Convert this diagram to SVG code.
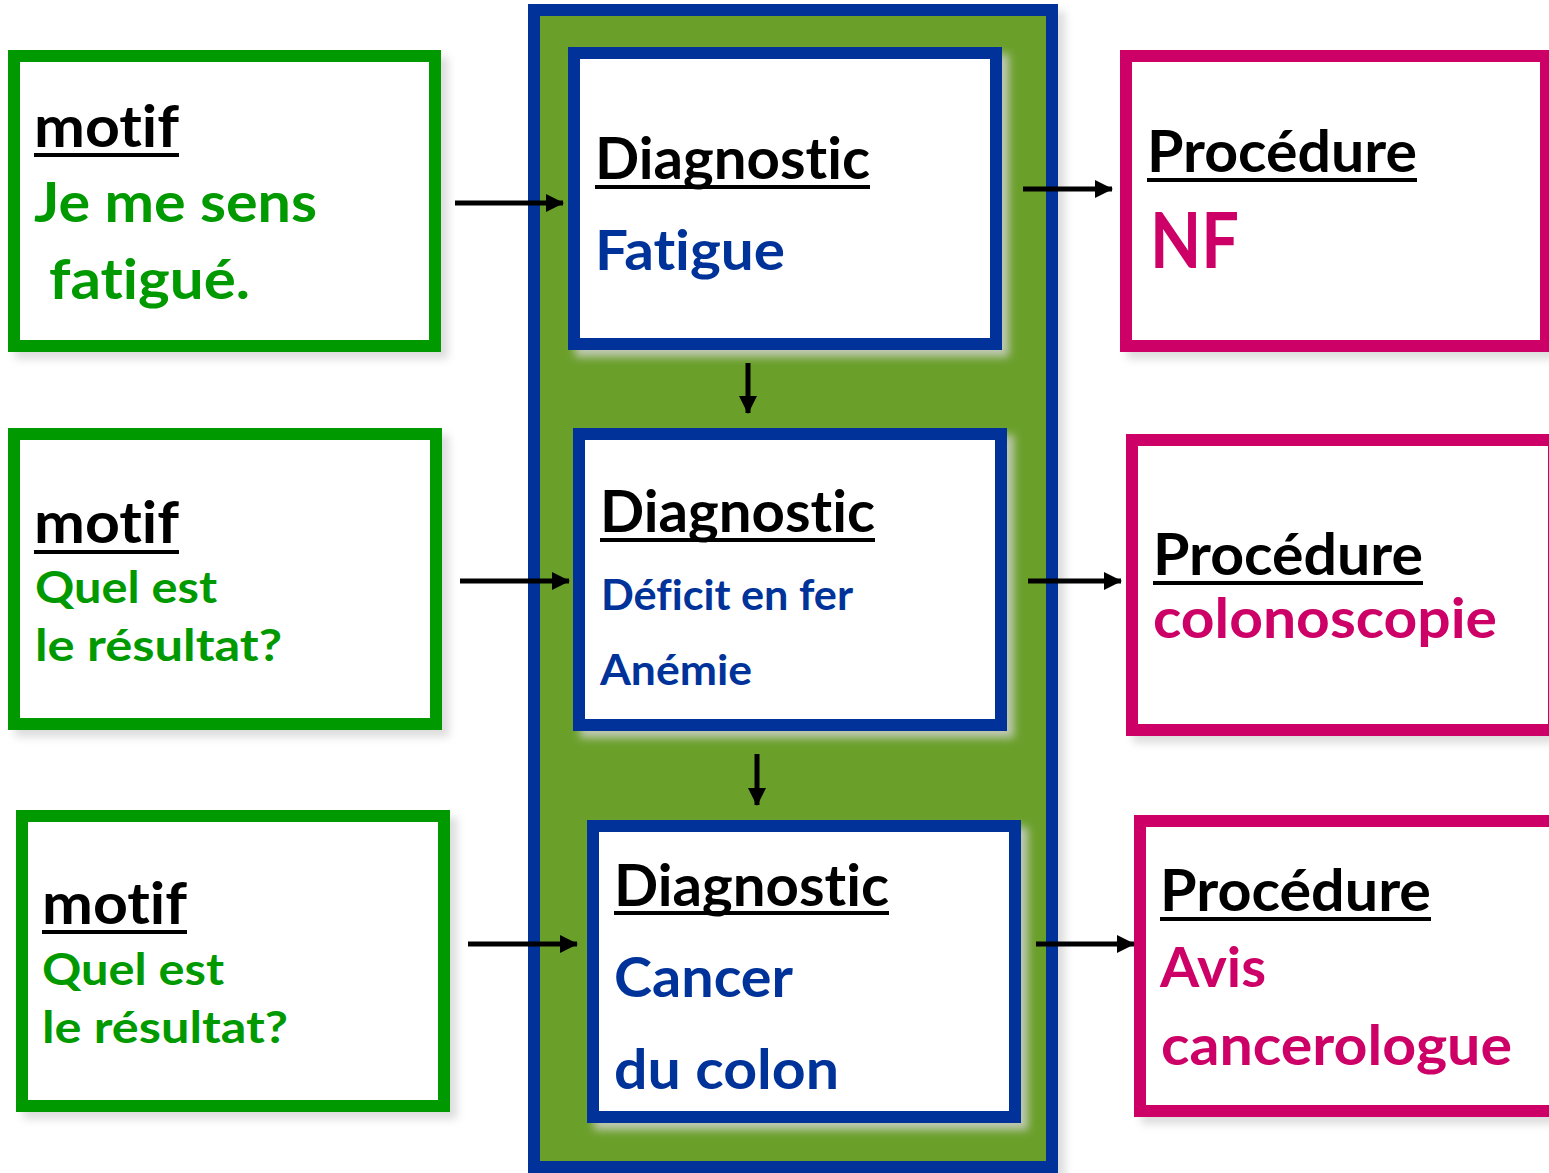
<svg xmlns="http://www.w3.org/2000/svg" width="1549" height="1173" viewBox="0 0 1549 1173">
  <style>
    text { font-family: "Lato", "Open Sans", "Liberation Sans", sans-serif; font-weight: 700; font-variant-ligatures: none; font-feature-settings: "liga" 0, "clig" 0; }
    .title { font-size: 57px; fill: #000000; }
    .ul { stroke: #000000; stroke-width: 4; }
    .motif-box { fill: #ffffff; stroke: #009900; stroke-width: 12; }
    .diag-box { fill: #ffffff; stroke: #003399; stroke-width: 12; }
    .proc-box { fill: #ffffff; stroke: #cc0066; stroke-width: 12; }
    .green { fill: #009900; }
    .blue { fill: #003399; }
    .pink { fill: #cc0066; }
    .conn { stroke: #000000; stroke-width: 5; fill: none; marker-end: url(#arrow); }
  </style>
  <defs>
    <filter id="shadow" x="-10%" y="-10%" width="125%" height="125%">
      <feDropShadow dx="7" dy="7" stdDeviation="4" flood-color="#d4d4d4" flood-opacity="0.8"/>
    </filter>
    <marker id="arrow" markerUnits="userSpaceOnUse" markerWidth="18" markerHeight="18" refX="17" refY="9" orient="auto">
      <path d="M0,0 L18,9 L0,18 Z" fill="#000000"/>
    </marker>
  </defs>

  <rect width="1549" height="1173" fill="#ffffff"/>

  <!-- central diagnostic column -->
  <g id="diagnostic-column">
    <rect x="534" y="10" width="518" height="1157" fill="#6b9f2a" stroke="#003399" stroke-width="12" filter="url(#shadow)"/>
  </g>

  <!-- motif boxes (left) -->
  <g id="motif-1">
    <rect class="motif-box" x="14" y="56" width="421" height="290" filter="url(#shadow)"/>
    <text class="title" x="34" y="147" textLength="145" lengthAdjust="spacingAndGlyphs">motif</text>
    <line class="ul" x1="34" y1="155" x2="179" y2="155"/>
    <text class="green" x="34" y="222" font-size="56" textLength="283" lengthAdjust="spacingAndGlyphs">Je me sens</text>
    <text class="green" x="49" y="299" font-size="56" textLength="201" lengthAdjust="spacingAndGlyphs">fatigué.</text>
  </g>
  <g id="motif-2">
    <rect class="motif-box" x="14" y="434" width="422" height="290" filter="url(#shadow)"/>
    <text class="title" x="34" y="543" textLength="145" lengthAdjust="spacingAndGlyphs">motif</text>
    <line class="ul" x1="34" y1="552" x2="179" y2="552"/>
    <text class="green" x="35" y="603" font-size="43" textLength="182" lengthAdjust="spacingAndGlyphs">Quel est</text>
    <text class="green" x="35" y="661" font-size="43" textLength="247" lengthAdjust="spacingAndGlyphs">le résultat?</text>
  </g>
  <g id="motif-3">
    <rect class="motif-box" x="22" y="816" width="422" height="290" filter="url(#shadow)"/>
    <text class="title" x="42" y="924" textLength="145" lengthAdjust="spacingAndGlyphs">motif</text>
    <line class="ul" x1="42" y1="932" x2="187" y2="932"/>
    <text class="green" x="42" y="985" font-size="43" textLength="182" lengthAdjust="spacingAndGlyphs">Quel est</text>
    <text class="green" x="42" y="1043" font-size="43" textLength="246" lengthAdjust="spacingAndGlyphs">le résultat?</text>
  </g>

  <!-- diagnostic boxes (centre) -->
  <g id="diagnostic-1">
    <rect class="diag-box" x="574" y="53" width="422" height="291" filter="url(#shadow)"/>
    <text class="title" x="595" y="179" textLength="275" lengthAdjust="spacingAndGlyphs">Diagnostic</text>
    <line class="ul" x1="595" y1="187" x2="870" y2="187"/>
    <text class="blue" x="595" y="270" font-size="56" textLength="190" lengthAdjust="spacingAndGlyphs">Fatigue</text>
  </g>
  <g id="diagnostic-2">
    <rect class="diag-box" x="579" y="434" width="422" height="291" filter="url(#shadow)"/>
    <text class="title" x="600" y="532" textLength="275" lengthAdjust="spacingAndGlyphs">Diagnostic</text>
    <line class="ul" x1="600" y1="540" x2="875" y2="540"/>
    <text class="blue" x="601" y="610" font-size="42" textLength="252" lengthAdjust="spacingAndGlyphs">Déficit en fer</text>
    <text class="blue" x="600" y="685" font-size="42" textLength="152" lengthAdjust="spacingAndGlyphs">Anémie</text>
  </g>
  <g id="diagnostic-3">
    <rect class="diag-box" x="593" y="826" width="422" height="291" filter="url(#shadow)"/>
    <text class="title" x="614" y="906" textLength="275" lengthAdjust="spacingAndGlyphs">Diagnostic</text>
    <line class="ul" x1="614" y1="913" x2="889" y2="913"/>
    <text class="blue" x="614" y="997" font-size="56" textLength="179" lengthAdjust="spacingAndGlyphs">Cancer</text>
    <text class="blue" x="614" y="1089" font-size="56" textLength="225" lengthAdjust="spacingAndGlyphs">du colon</text>
  </g>

  <!-- procedure boxes (right) -->
  <g id="procedure-1">
    <rect class="proc-box" x="1126" y="56" width="420" height="290" filter="url(#shadow)"/>
    <text class="title" x="1147" y="172" textLength="270" lengthAdjust="spacingAndGlyphs">Procédure</text>
    <line class="ul" x1="1147" y1="180" x2="1417" y2="180"/>
    <text class="pink" x="1150" y="268" font-size="76" textLength="89" lengthAdjust="spacingAndGlyphs">NF</text>
  </g>
  <g id="procedure-2">
    <rect class="proc-box" x="1132" y="440" width="422" height="290" filter="url(#shadow)"/>
    <text class="title" x="1153" y="575" textLength="270" lengthAdjust="spacingAndGlyphs">Procédure</text>
    <line class="ul" x1="1153" y1="583" x2="1423" y2="583"/>
    <text class="pink" x="1153" y="638" font-size="56" textLength="344" lengthAdjust="spacingAndGlyphs">colonoscopie</text>
  </g>
  <g id="procedure-3">
    <rect class="proc-box" x="1140" y="821" width="422" height="290" filter="url(#shadow)"/>
    <text class="title" x="1160" y="911" textLength="271" lengthAdjust="spacingAndGlyphs">Procédure</text>
    <line class="ul" x1="1160" y1="919" x2="1431" y2="919"/>
    <text class="pink" x="1160" y="987" font-size="56" textLength="106" lengthAdjust="spacingAndGlyphs">Avis</text>
    <text class="pink" x="1161" y="1065" font-size="56" textLength="351" lengthAdjust="spacingAndGlyphs">cancerologue</text>
  </g>

  <!-- connectors -->
  <g id="connectors">
    <line class="conn" x1="455" y1="203" x2="563" y2="203"/>
    <line class="conn" x1="460" y1="581" x2="569" y2="581"/>
    <line class="conn" x1="468" y1="944" x2="577" y2="944"/>
    <line class="conn" x1="1023" y1="189" x2="1112" y2="189"/>
    <line class="conn" x1="1028" y1="581" x2="1121" y2="581"/>
    <line class="conn" x1="1036" y1="944" x2="1134" y2="944"/>
    <line class="conn" x1="748" y1="363" x2="748" y2="413"/>
    <line class="conn" x1="757" y1="754" x2="757" y2="805"/>
  </g>
</svg>
